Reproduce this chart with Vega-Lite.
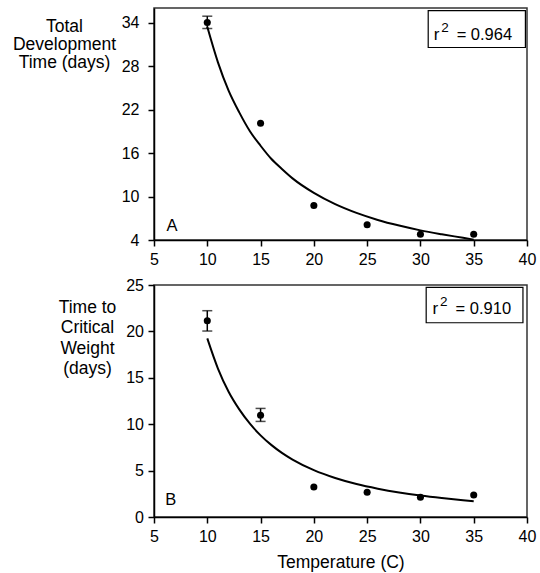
{
  "$schema": "https://vega.github.io/schema/vega-lite/v6.json",
  "padding": {"left": 11, "top": 7, "right": 4, "bottom": 0},
  "background": "white",
  "config": {
    "font": "Liberation Sans",
    "view": {"stroke": "#333333", "strokeWidth": 1.5},
    "axis": {
      "grid": false,
      "domainColor": "black",
      "domainWidth": 1.5,
      "tickColor": "black",
      "tickWidth": 1.5,
      "tickSize": 6,
      "labelFont": "Liberation Sans",
      "labelFontSize": 16,
      "labelColor": "black",
      "labelPadding": 5,
      "labelFlush": false,
      "labelOverlap": false,
      "titleFont": "Liberation Sans",
      "titleFontSize": 17.5,
      "titleFontWeight": "normal",
      "titleColor": "black"
    }
  },
  "datasets": {
    "dev_points": [
      {"temp": 10, "days": 34.0},
      {"temp": 15, "days": 20.1},
      {"temp": 20, "days": 8.75},
      {"temp": 25, "days": 6.1},
      {"temp": 30, "days": 4.8},
      {"temp": 35, "days": 4.8}
    ],
    "dev_err": [
      {"temp": 10, "lo": 33.17, "hi": 34.87}
    ],
    "dev_curve": [
      {"temp": 10, "days": 33.4},
      {"temp": 11, "days": 28.5},
      {"temp": 12, "days": 24.6},
      {"temp": 13, "days": 21.6},
      {"temp": 14, "days": 19.0},
      {"temp": 15, "days": 17.0},
      {"temp": 16, "days": 15.2},
      {"temp": 17, "days": 13.8},
      {"temp": 18, "days": 12.5},
      {"temp": 20, "days": 10.5},
      {"temp": 22, "days": 8.95},
      {"temp": 24, "days": 7.74},
      {"temp": 26, "days": 6.77},
      {"temp": 28, "days": 5.99},
      {"temp": 30, "days": 5.33},
      {"temp": 32, "days": 4.79},
      {"temp": 34, "days": 4.3},
      {"temp": 35, "days": 4.05}
    ],
    "cw_points": [
      {"temp": 10, "days": 21.15},
      {"temp": 15, "days": 10.97},
      {"temp": 20, "days": 3.24},
      {"temp": 25, "days": 2.66},
      {"temp": 30, "days": 2.12},
      {"temp": 35, "days": 2.37}
    ],
    "cw_err": [
      {"temp": 10, "lo": 20.04, "hi": 22.23},
      {"temp": 15, "lo": 10.3, "hi": 11.7}
    ],
    "cw_curve": [
      {"temp": 10, "days": 19.25},
      {"temp": 11, "days": 16.0},
      {"temp": 12, "days": 13.5},
      {"temp": 13, "days": 11.6},
      {"temp": 14, "days": 10.06},
      {"temp": 15, "days": 8.8},
      {"temp": 16, "days": 7.77},
      {"temp": 17, "days": 6.91},
      {"temp": 18, "days": 6.19},
      {"temp": 20, "days": 5.05},
      {"temp": 22, "days": 4.2},
      {"temp": 24, "days": 3.55},
      {"temp": 26, "days": 3.05},
      {"temp": 28, "days": 2.64},
      {"temp": 30, "days": 2.31},
      {"temp": 32, "days": 2.04},
      {"temp": 34, "days": 1.81},
      {"temp": 35, "days": 1.71}
    ]
  },
  "spacing": 8,
  "vconcat": [
    {
      "width": 373,
      "height": 232,
      "layer": [
        {
          "data": {"name": "dev_curve"},
          "mark": {"type": "line", "color": "black", "strokeWidth": 2, "interpolate": "monotone"},
          "encoding": {
            "x": {"field": "temp", "type": "quantitative",
              "scale": {"domain": [5, 40], "nice": false, "zero": false},
              "axis": {"values": [5, 10, 15, 20, 25, 30, 35, 40], "title": null}},
            "y": {"field": "days", "type": "quantitative",
              "scale": {"domain": [4, 36], "nice": false, "zero": false},
              "axis": {"values": [4, 10, 16, 22, 28, 34],
                "title": ["Total", "Development", "Time (days)"],
                "titleAngle": 0, "titleAlign": "center", "titleBaseline": "alphabetic",
                "titleX": -90, "titleY": 23, "titleLineHeight": 18.3,
                "labelPadding": 9}}
          }
        },
        {
          "data": {"name": "dev_err"},
          "mark": {"type": "rule", "color": "black", "strokeWidth": 1.5},
          "encoding": {
            "x": {"field": "temp", "type": "quantitative"},
            "y": {"field": "lo", "type": "quantitative"},
            "y2": {"field": "hi"}
          }
        },
        {
          "data": {"name": "dev_err"},
          "mark": {"type": "tick", "orient": "horizontal", "color": "black", "thickness": 1.5, "size": 10},
          "encoding": {
            "x": {"field": "temp", "type": "quantitative"},
            "y": {"field": "lo", "type": "quantitative"}
          }
        },
        {
          "data": {"name": "dev_err"},
          "mark": {"type": "tick", "orient": "horizontal", "color": "black", "thickness": 1.5, "size": 10},
          "encoding": {
            "x": {"field": "temp", "type": "quantitative"},
            "y": {"field": "hi", "type": "quantitative"}
          }
        },
        {
          "data": {"name": "dev_points"},
          "mark": {"type": "point", "filled": true, "color": "black", "size": 50, "opacity": 1},
          "encoding": {
            "x": {"field": "temp", "type": "quantitative"},
            "y": {"field": "days", "type": "quantitative"}
          }
        },
        {
          "data": {"values": [{}]},
          "mark": {"type": "rect", "fill": "white", "stroke": "black", "strokeWidth": 1.2},
          "encoding": {
            "x": {"datum": 30.73}, "x2": {"datum": 39.85},
            "y": {"datum": 35.63}, "y2": {"datum": 30.55}
          }
        },
        {
          "data": {"values": [{}]},
          "mark": {"type": "text", "text": "r", "align": "left", "baseline": "alphabetic", "fontSize": 17, "color": "black"},
          "encoding": {"x": {"datum": 31.24}, "y": {"datum": 31.58}}
        },
        {
          "data": {"values": [{}]},
          "mark": {"type": "text", "text": "2", "align": "left", "baseline": "alphabetic", "fontSize": 13.5, "dx": 7.5, "dy": -8.5, "color": "black"},
          "encoding": {"x": {"datum": 31.24}, "y": {"datum": 31.58}}
        },
        {
          "data": {"values": [{}]},
          "mark": {"type": "text", "text": "= 0.964", "align": "left", "baseline": "alphabetic", "fontSize": 16.5, "dx": 23, "color": "black"},
          "encoding": {"x": {"datum": 31.24}, "y": {"datum": 31.58}}
        },
        {
          "data": {"values": [{}]},
          "mark": {"type": "text", "text": "A", "align": "center", "baseline": "alphabetic", "fontSize": 16.5, "color": "black"},
          "encoding": {"x": {"datum": 6.69}, "y": {"datum": 5.21}}
        }
      ]
    },
    {
      "width": 373,
      "height": 232,
      "layer": [
        {
          "data": {"name": "cw_curve"},
          "mark": {"type": "line", "color": "black", "strokeWidth": 2, "interpolate": "monotone"},
          "encoding": {
            "x": {"field": "temp", "type": "quantitative",
              "scale": {"domain": [5, 40], "nice": false, "zero": false},
              "axis": {"values": [5, 10, 15, 20, 25, 30, 35, 40], "title": "Temperature (C)", "titlePadding": 9}},
            "y": {"field": "days", "type": "quantitative",
              "scale": {"domain": [0, 25], "nice": false},
              "axis": {"values": [0, 5, 10, 15, 20, 25],
                "title": ["Time to", "Critical", "Weight", "(days)"],
                "titleAngle": 0, "titleAlign": "center", "titleBaseline": "alphabetic",
                "titleX": -67, "titleY": 27.7, "titleLineHeight": 20.3,
                "labelPadding": 4.5}}
          }
        },
        {
          "data": {"name": "cw_err"},
          "mark": {"type": "rule", "color": "black", "strokeWidth": 1.5},
          "encoding": {
            "x": {"field": "temp", "type": "quantitative"},
            "y": {"field": "lo", "type": "quantitative"},
            "y2": {"field": "hi"}
          }
        },
        {
          "data": {"name": "cw_err"},
          "mark": {"type": "tick", "orient": "horizontal", "color": "black", "thickness": 1.5, "size": 10},
          "encoding": {
            "x": {"field": "temp", "type": "quantitative"},
            "y": {"field": "lo", "type": "quantitative"}
          }
        },
        {
          "data": {"name": "cw_err"},
          "mark": {"type": "tick", "orient": "horizontal", "color": "black", "thickness": 1.5, "size": 10},
          "encoding": {
            "x": {"field": "temp", "type": "quantitative"},
            "y": {"field": "hi", "type": "quantitative"}
          }
        },
        {
          "data": {"name": "cw_points"},
          "mark": {"type": "point", "filled": true, "color": "black", "size": 50, "opacity": 1},
          "encoding": {
            "x": {"field": "temp", "type": "quantitative"},
            "y": {"field": "days", "type": "quantitative"}
          }
        },
        {
          "data": {"values": [{}]},
          "mark": {"type": "rect", "fill": "white", "stroke": "black", "strokeWidth": 1.2},
          "encoding": {
            "x": {"datum": 30.54}, "x2": {"datum": 39.62},
            "y": {"datum": 24.75}, "y2": {"datum": 20.93}
          }
        },
        {
          "data": {"values": [{}]},
          "mark": {"type": "text", "text": "r", "align": "left", "baseline": "alphabetic", "fontSize": 17, "color": "black"},
          "encoding": {"x": {"datum": 31.14}, "y": {"datum": 21.87}}
        },
        {
          "data": {"values": [{}]},
          "mark": {"type": "text", "text": "2", "align": "left", "baseline": "alphabetic", "fontSize": 13.5, "dx": 7.5, "dy": -8.5, "color": "black"},
          "encoding": {"x": {"datum": 31.14}, "y": {"datum": 21.87}}
        },
        {
          "data": {"values": [{}]},
          "mark": {"type": "text", "text": "= 0.910", "align": "left", "baseline": "alphabetic", "fontSize": 16.5, "dx": 23, "color": "black"},
          "encoding": {"x": {"datum": 31.14}, "y": {"datum": 21.87}}
        },
        {
          "data": {"values": [{}]},
          "mark": {"type": "text", "text": "B", "align": "center", "baseline": "alphabetic", "fontSize": 16.5, "color": "black"},
          "encoding": {"x": {"datum": 6.58}, "y": {"datum": 1.26}}
        }
      ]
    }
  ]
}
